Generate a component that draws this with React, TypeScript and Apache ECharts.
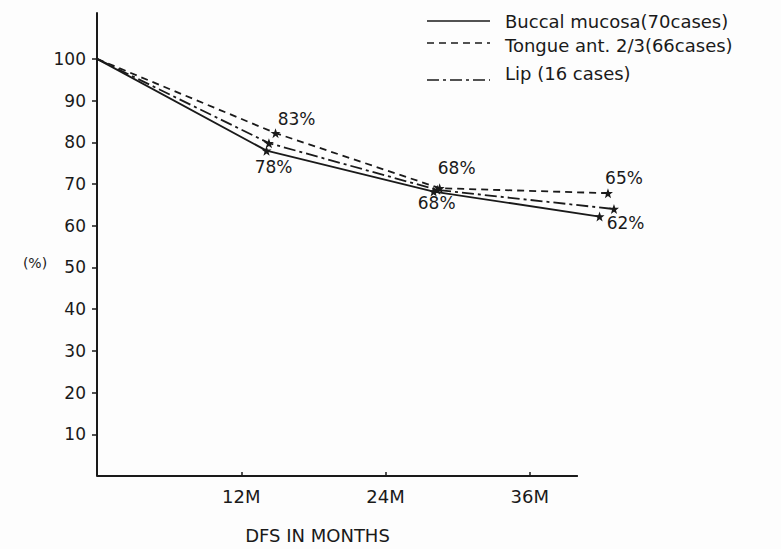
import React, { useEffect, useRef } from "react";
import * as echarts from "echarts";

const xTickValues = [12, 24, 36];
const xTickSuffix = "M";
const xAxisEnd = 40;
const yTickValues = [10, 20, 30, 40, 50, 60, 70, 80, 90, 100];
const yAxisTitle = "(%)";

const legendNames = ["Buccal mucosa(70cases)", "Tongue ant. 2/3(66cases)", "Lip (16 cases)"];

// [months (as plotted), percent]
const buccal = [[0, 100], [14.1, 78.0], [28.0, 68.2], [41.8, 62.2]];
const tongue = [[0, 100], [14.85, 82.2], [28.5, 69.0], [42.5, 67.8]];
const lip = [[0, 100], [14.3, 79.8], [28.3, 68.6], [43.0, 64.0]];

const buccalLabels = ["", "78%", "68%", "62%"];
const tongueLabels = ["", "83%", "68%", "65%"];

const FONT = "DejaVu Sans";
const INK = "#1a1a1a";

const buccalOffsets: Record<number, number[]> = { 1: [7, 16], 2: [3, 11], 3: [26, 6] };
const tongueOffsets: Record<number, number[]> = { 1: [21, -14], 2: [17, -20], 3: [16, -15] };

function buildData(values: number[][], labels: string[] | null, offsets: Record<number, number[]>) {
  return values.map((v, i) => {
    const item: any = { value: v };
    if (i === 0) item.symbol = "none";
    if (labels && labels[i]) {
      item.label = {
        show: true,
        formatter: labels[i],
        position: "inside",
        offset: offsets[i],
        fontFamily: FONT,
        fontSize: 17,
        color: INK,
      };
    }
    return item;
  });
}

export default function App() {
  const ref = useRef<HTMLDivElement>(null);
  useEffect(() => {
    if (!ref.current) return;
    const chart = echarts.init(ref.current, null, { renderer: "svg" });
    const baseSeries = {
      type: "line",
      symbol: "path://M0,-10 L2.4,-3.2 9.5,-3.1 3.8,1.2 5.9,8.1 0,4 -5.9,8.1 -3.8,1.2 -9.5,-3.1 -2.4,-3.2 Z",
      symbolSize: 10,
      clip: false,
      itemStyle: { color: INK },
      emphasis: { disabled: true },
    };
    const legendRows = [
      { y: 21, dash: null as number[] | null, ty: 21 },
      { y: 43, dash: [7, 5], ty: 45 },
      { y: 80, dash: [12, 4, 3, 4], ty: 73 },
    ];
    const graphic: any[] = [];
    legendRows.forEach((r, i) => {
      graphic.push({
        type: "line",
        shape: { x1: 427, y1: r.y, x2: 490, y2: r.y },
        style: { stroke: INK, lineWidth: 1.6, lineDash: r.dash || undefined },
      });
      graphic.push({
        type: "text",
        x: 505,
        y: r.ty,
        style: {
          text: legendNames[i],
          fontFamily: FONT,
          fontSize: 18,
          fill: INK,
          verticalAlign: "middle",
        },
      });
    });
    graphic.push({
      type: "text",
      x: 35,
      y: 263,
      style: {
        text: yAxisTitle,
        fontFamily: FONT,
        fontSize: 14,
        fill: INK,
        align: "center",
        verticalAlign: "middle",
      },
    });
    chart.setOption({
      animation: false,
      backgroundColor: "#fdfdfd",
      grid: { left: 97, top: 13, width: 529, height: 465 },
      xAxis: {
        type: "value",
        min: 0,
        max: 44,
        splitLine: { show: false },
        axisLine: { show: false },
        axisTick: { show: true, inside: true, length: 4, customValues: xTickValues, lineStyle: { color: INK, width: 1.5 } },
        axisLabel: {
          customValues: xTickValues,
          formatter: (v: number) => v + xTickSuffix,
          fontFamily: FONT,
          fontSize: 18,
          color: INK,
          margin: 11,
        },
        name: "DFS IN MONTHS",
        nameLocation: "middle",
        nameGap: 50,
        nameTextStyle: { fontFamily: FONT, fontSize: 18, color: INK, padding: [0, 88, 0, 0] },
      },
      yAxis: {
        type: "value",
        min: 0,
        max: 111,
        splitLine: { show: false },
        axisLine: { show: true, lineStyle: { color: INK, width: 2 } },
        axisTick: { show: true, length: 5, customValues: yTickValues, lineStyle: { color: INK, width: 1.5 } },
        axisLabel: {
          customValues: yTickValues,
          fontFamily: FONT,
          fontSize: 17,
          color: INK,
          margin: 11,
        },
      },
      series: [
        {
          ...baseSeries,
          name: legendNames[0],
          lineStyle: { color: INK, width: 1.8, type: "solid" },
          data: buildData(buccal, buccalLabels, buccalOffsets),
          markLine: {
            silent: true,
            symbol: ["none", "none"],
            label: { show: false },
            lineStyle: { color: INK, width: 2, type: "solid" },
            data: [[{ coord: [0, 0] }, { coord: [xAxisEnd, 0] }]],
          },
        },
        {
          ...baseSeries,
          name: legendNames[1],
          lineStyle: { color: INK, width: 1.8, type: [7, 5] },
          data: buildData(tongue, tongueLabels, tongueOffsets),
        },
        {
          ...baseSeries,
          name: legendNames[2],
          lineStyle: { color: INK, width: 1.8, type: [12, 4, 3, 4] },
          data: buildData(lip, null, {}),
        },
      ],
      graphic,
    });
    return () => chart.dispose();
  }, []);
  return (
    <div
      ref={ref}
      style={{ position: "fixed", left: 0, top: 0, width: 781, height: 549 }}
    />
  );
}
